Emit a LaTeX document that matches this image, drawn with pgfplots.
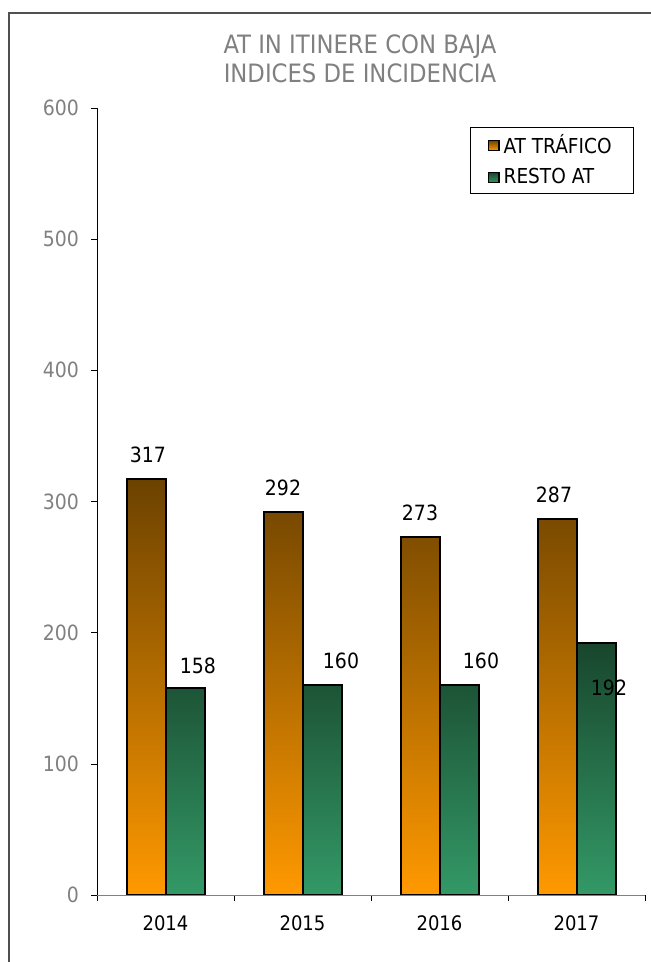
\documentclass[border=0pt]{standalone}
\usepackage{pgfplots}
\pgfplotsset{compat=1.18}
\usepackage{pgfplotstable}
\usepackage{fontspec}
\setmainfont{DejaVu Sans Condensed}
\definecolor{tickgray}{RGB}{128,128,128}
\definecolor{orbot}{RGB}{255,153,0}
\definecolor{ortop}{RGB}{108,66,0}
\definecolor{grbot}{RGB}{51,153,102}
\definecolor{grtop}{RGB}{24,70,45}
\pgfplotstableread{
x y dx dy
1 317 1 12
2 292 0 12
3 273 0 12
4 287 -1.5 12
}\trafico
\pgfplotstableread{
x y dx dy
1 158 6.5 11
2 160 9.5 12
3 160 11 12
4 192 6.5 -22.5
}\resto
\begin{document}
\begin{tikzpicture}
\begin{axis}[
  at={(48.5pt,33.5pt)}, anchor=origin,
  scale only axis, width=274pt, height=393.5pt,
  xmin=0.5, xmax=4.5, ymin=0, ymax=600,
  axis lines=left, axis line style={-},
  x axis line style={draw=tickgray},
  y axis line style={draw=black},
  ytick={0,100,...,600},
  xtick={1,2,3,4}, xticklabels={2014,2015,2016,2017},
  minor xtick={0.5,1.5,2.5,3.5,4.5},
  tick align=outside,
  major tick length=3pt, minor tick length=3pt,
  x tick style={draw=none},
  minor x tick style={draw=black},
  y tick style={draw=black},
  yticklabel style={text=tickgray, font=\fontsize{10.5}{12}\selectfont, xshift=-2.5pt},
  xticklabel style={text=black, font=\fontsize{10}{12}\selectfont, yshift=-4pt},
  ybar=0pt, bar width=19.5pt,
  /pgf/number format/assume math mode=true,
  legend style={at={(1,1)}, anchor=north east, xshift=-5.5pt, yshift=-9.5pt,
    draw=black, fill=white, font=\fontsize{10.3}{12}\selectfont,
    inner xsep=9pt, inner ysep=1.5pt, row sep=2pt,
    /tikz/every even column/.append style={column sep=1pt}},
  legend cell align=left,
  nodes near coords={\pgfmathprintnumber{\pgfplotspointmeta}},
  point meta=y,
  visualization depends on={\thisrow{dx} \as \dx},
  visualization depends on={\thisrow{dy} \as \dy},
  every node near coord/.append style={anchor=center, xshift=\dx pt, yshift=\dy pt,
    font=\fontsize{10.5}{12}\selectfont, text=black},
]
\addplot[draw=black, line width=1pt, bottom color=orbot, top color=ortop,
  legend image code/.code={\draw[black, line width=0.6pt, fill={rgb,255:red,214;green,128;blue,0}] (0pt,-2.6pt) rectangle (5.2pt,2.6pt);}]
  table[x=x, y=y] {\trafico};
\addlegendentry{AT TRÁFICO}
\addplot[draw=black, line width=1pt, bottom color=grbot, top color=grtop,
  legend image code/.code={\draw[black, line width=0.6pt, fill={rgb,255:red,44;green,122;blue,82}] (0pt,-2.6pt) rectangle (5.2pt,2.6pt);}]
  table[x=x, y=y] {\resto};
\addlegendentry{RESTO AT}
\end{axis}
\node[align=center, text=tickgray, font=\fontsize{12.65}{14.2}\selectfont] at (180pt,451.5pt) {AT IN ITINERE CON BAJA\\INDICES DE INCIDENCIA};
\draw[draw={rgb,255:red,80;green,80;blue,80}, line width=0.6pt] (4.5pt,-5pt) -- (4.5pt,474.5pt) -- (330pt,474.5pt);
\pgfresetboundingbox
\path[use as bounding box] (0,0) rectangle (325pt,481pt);
\end{tikzpicture}
\end{document}
